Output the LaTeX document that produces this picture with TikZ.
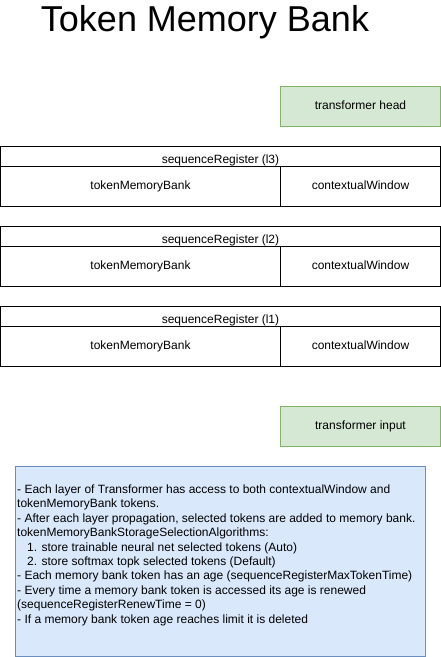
\documentclass[tikz,border=0pt]{standalone}
\usepackage{fontspec}
\setmainfont{Liberation Sans}
\usetikzlibrary{positioning}
\definecolor{iofill}{HTML}{D5E8D4}
\definecolor{ioline}{HTML}{82B366}
\definecolor{notefill}{HTML}{DAE8FC}
\definecolor{noteline}{HTML}{6C8EBF}
\tikzset{
  cell/.style={draw, line width=1pt, inner sep=0pt, outer sep=0pt, anchor=north west,
    text height=8.6pt, text depth=3pt, font=\fontsize{12}{14.4}\selectfont},
  io/.style={cell, fill=iofill, draw=ioline, minimum width=160pt, minimum height=40pt},
  regtitle/.style={cell, minimum width=440pt, minimum height=20pt, text height=14pt, text depth=0pt},
  bankcell/.style={cell, minimum width=280pt, minimum height=40pt},
  wincell/.style={cell, minimum width=160pt, minimum height=40pt},
}
\begin{document}
\begin{tikzpicture}[x=1pt,y=-1pt]
  \useasboundingbox (0,0) rectangle (441,657);
  \node[anchor=base, font=\fontsize{36}{40}\selectfont] (title) at (205,31) {Token Memory Bank};

  \node[io] (head) at (280.5,86.5) {transformer head};

  % layer 3
  \node[regtitle] (reg3) at (0.5,146.5) {sequenceRegister (l3)};
  \node[bankcell] (bank3) at (reg3.south west) {tokenMemoryBank};
  \node[wincell] (win3) at (bank3.north east) {contextualWindow};

  % layer 2
  \node[regtitle] (reg2) at (0.5,226.5) {sequenceRegister (l2)};
  \node[bankcell] (bank2) at (reg2.south west) {tokenMemoryBank};
  \node[wincell] (win2) at (bank2.north east) {contextualWindow};

  % layer 1
  \node[regtitle] (reg1) at (0.5,306.5) {sequenceRegister (l1)};
  \node[bankcell] (bank1) at (reg1.south west) {tokenMemoryBank};
  \node[wincell] (win1) at (bank1.north east) {contextualWindow};

  \node[io] (input) at (280.5,406.5) {transformer input};

  % notes
  \node[cell, fill=notefill, draw=noteline, minimum width=410pt, minimum height=190pt] (note) at (15.5,466.5) {};
  \node[anchor=north west, inner sep=0pt, align=left, font=\fontsize{12}{14.4}\selectfont] (notetext) at (17,484.5)
    {- Each layer of Transformer has access to both contextualWindow and\\
     tokenMemoryBank tokens.\\
     - After each layer propagation, selected tokens are added to memory bank.\\
     tokenMemoryBankStorageSelectionAlgorithms:\\
     \hspace*{10pt}1. store trainable neural net selected tokens (Auto)\\
     \hspace*{10pt}2. store softmax topk selected tokens (Default)\\
     - Each memory bank token has an age (sequenceRegisterMaxTokenTime)\\
     - Every time a memory bank token is accessed its age is renewed\\
     (sequenceRegisterRenewTime = 0)\\
     - If a memory bank token age reaches limit it is deleted};
\end{tikzpicture}
\end{document}
